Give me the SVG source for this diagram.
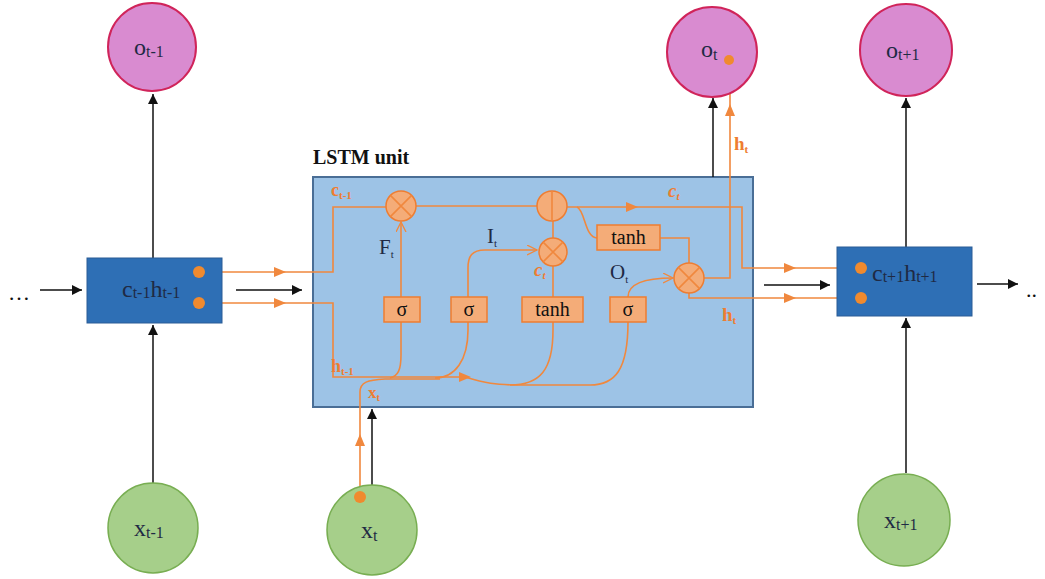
<svg xmlns="http://www.w3.org/2000/svg" width="1045" height="579" viewBox="0 0 1045 579">
<style>
.blk{stroke:#111;stroke-width:1.5;fill:none}
.or{stroke:#F0883E;stroke-width:1.6;fill:none}
.orf{fill:#F4AC78;stroke:#EE7D31;stroke-width:1.5}
.pink{fill:#D98BD0;stroke:#D0245A;stroke-width:2}
.green{fill:#A6CF8A;stroke:#78AE52;stroke-width:1.5}
.dbox{fill:#2E6FB5;stroke:#2A5D96;stroke-width:1}
.lbl{font-family:"Liberation Serif",serif;fill:#1F2A44}
.glbl{font-family:"Liberation Serif",serif;fill:#111}
.title{font-family:"Liberation Serif",serif;fill:#111;font-weight:bold}
.olbl{font-family:"Liberation Serif",serif;fill:#EE7D31;font-weight:bold}
.dot{fill:#F08A2E}
</style>
<defs>
<marker id="ab" markerWidth="12" markerHeight="12" refX="10" refY="5" orient="auto" markerUnits="userSpaceOnUse"><path d="M0,0 L10,5 L0,10 z" fill="#111"/></marker>
<marker id="at" markerWidth="14" markerHeight="14" refX="6" refY="5" orient="auto" markerUnits="userSpaceOnUse"><path d="M0,0 L12,5 L0,10 z" fill="#F0883E"/></marker>
<marker id="ac" markerWidth="14" markerHeight="14" refX="10" refY="5" orient="auto" markerUnits="userSpaceOnUse"><path d="M0,0 L10,5 L0,10" fill="none" stroke="#F0883E" stroke-width="1.3"/></marker>
</defs>

<g id="lstm-unit">
<text class="title" x="313" y="164" font-size="20">LSTM unit</text>
<rect x="313" y="177" width="440" height="230" fill="#9DC3E6" stroke="#4A6E96" stroke-width="2"/>
</g>

<g id="connectors">
<line class="blk" x1="40" y1="290" x2="82" y2="290" marker-end="url(#ab)"/>
<line class="blk" x1="236" y1="290" x2="302" y2="290" marker-end="url(#ab)"/>
<line class="blk" x1="764" y1="285" x2="830" y2="285" marker-end="url(#ab)"/>
<line class="blk" x1="977" y1="284" x2="1018" y2="284" marker-end="url(#ab)"/>
<line class="blk" x1="153" y1="258" x2="153" y2="94" marker-end="url(#ab)"/>
<line class="blk" x1="153" y1="483" x2="153" y2="325" marker-end="url(#ab)"/>
<line class="blk" x1="713" y1="177" x2="713" y2="98" marker-end="url(#ab)"/>
<line class="blk" x1="372" y1="486" x2="372" y2="409" marker-end="url(#ab)"/>
<line class="blk" x1="906" y1="247" x2="906" y2="98" marker-end="url(#ab)"/>
<line class="blk" x1="906" y1="473" x2="906" y2="318" marker-end="url(#ab)"/>

<path class="or" d="M205,272 H280" marker-end="url(#at)"/>
<path class="or" d="M280,272 H333 V207 H386"/>
<path class="or" d="M205,303 H280" marker-end="url(#at)"/>
<path class="or" d="M280,303 H333 V377 H465" marker-end="url(#at)"/>
<path class="or" d="M465,377 C485,383 495,385 520,385 H590 C615,385 628,370 628,322"/>
<path class="or" d="M360,497 V440" marker-end="url(#at)"/>
<path class="or" d="M360,440 V392 C360,382 368,380 385,379 H440"/>
<path class="or" d="M390,378 C398,376 401,370 401,355 V322"/>
<path class="or" d="M401,297 V222" marker-end="url(#ac)"/>
<path class="or" d="M435,378 C455,378 468,360 468,330 V322"/>
<path class="or" d="M468,297 V268 C468,256 472,250 485,250 H537" marker-end="url(#ac)"/>
<path class="or" d="M510,385 C540,385 553,370 553,330 V322"/>
<path class="or" d="M553,297 V266"/>
<path class="or" d="M553,238 V221"/>
<path class="or" d="M416,206 H537"/>
<path class="or" d="M567,207 H632" marker-end="url(#at)"/>
<path class="or" d="M632,207 H742 V268 H790" marker-end="url(#at)"/>
<path class="or" d="M790,268 H861"/>
<path class="or" d="M577,207 C585,210 585,238 597,238"/>
<path class="or" d="M628,297 C628,285 640,278 673,278" marker-end="url(#ac)"/>
<path class="or" d="M660,238 H689 V263"/>
<path class="or" d="M704,278 H730 V110" marker-end="url(#at)"/>
<path class="or" d="M730,110 V60"/>
<path class="or" d="M689,293 V298 H790" marker-end="url(#at)"/>
<path class="or" d="M790,298 H861"/>
</g>

<g id="ops">
<g id="forget-mult"><circle class="orf" cx="401" cy="206" r="15"/><path class="or" d="M390.4,195.4 L411.6,216.6 M411.6,195.4 L390.4,216.6"/></g>
<g id="add"><circle class="orf" cx="552" cy="206" r="15"/><path class="or" d="M552,191 V221"/></g>
<g id="input-mult"><circle class="orf" cx="553" cy="252" r="14"/><path class="or" d="M543.1,242.1 L562.9,261.9 M562.9,242.1 L543.1,261.9"/></g>
<g id="output-mult"><circle class="orf" cx="689" cy="278" r="15"/><path class="or" d="M678.4,267.4 L699.6,288.6 M699.6,267.4 L678.4,288.6"/></g>
</g>

<g id="gates">
<g id="sigma-f"><rect class="orf" x="384" y="297" width="36" height="25"/><text class="glbl" x="402" y="316" font-size="20" text-anchor="middle">σ</text></g>
<g id="sigma-i"><rect class="orf" x="451" y="297" width="36" height="25"/><text class="glbl" x="469" y="316" font-size="20" text-anchor="middle">σ</text></g>
<g id="tanh-c"><rect class="orf" x="522" y="297" width="61" height="25"/><text class="glbl" x="552.5" y="316" font-size="20" text-anchor="middle">tanh</text></g>
<g id="sigma-o"><rect class="orf" x="610" y="297" width="36" height="25"/><text class="glbl" x="628" y="316" font-size="20" text-anchor="middle">σ</text></g>
<g id="tanh-h"><rect class="orf" x="597" y="225" width="63" height="25"/><text class="glbl" x="628.5" y="244" font-size="20" text-anchor="middle">tanh</text></g>
</g>

<g id="inner-labels">
<text class="lbl" x="379" y="254" font-size="21">F<tspan font-size="11" dy="4">t</tspan></text>
<text class="lbl" x="487" y="243" font-size="21">I<tspan font-size="11" dy="4">t</tspan></text>
<text class="lbl" x="610" y="279" font-size="21">O<tspan font-size="11" dy="4">t</tspan></text>
<text class="olbl" x="331" y="196" font-size="18">c<tspan font-size="11" dy="3">t-1</tspan></text>
<text class="olbl" x="331" y="372" font-size="18">h<tspan font-size="11" dy="3">t-1</tspan></text>
<text class="olbl" x="368" y="398" font-size="17">x<tspan font-size="10" dy="3">t</tspan></text>
<text class="olbl" x="668" y="197" font-size="19" font-style="italic">c<tspan font-size="11" dy="3">t</tspan></text>
<text class="olbl" x="534" y="276" font-size="19" font-style="italic">c<tspan font-size="11" dy="3">t</tspan></text>
<text class="olbl" x="734" y="150" font-size="19">h<tspan font-size="11" dy="3">t</tspan></text>
<text class="olbl" x="722" y="321" font-size="19">h<tspan font-size="11" dy="3">t</tspan></text>
</g>

<g id="state-prev">
<rect class="dbox" x="87" y="258" width="135" height="65"/>
<text class="lbl" x="122" y="297" font-size="24">c<tspan font-size="16" dy="1">t-1</tspan><tspan font-size="24" dy="-1">h</tspan><tspan font-size="16" dy="1">t-1</tspan></text>
<circle class="dot" cx="199" cy="272" r="6"/>
<circle class="dot" cx="199" cy="303" r="6"/>
</g>
<g id="state-next">
<rect class="dbox" x="837" y="247" width="135" height="69"/>
<text class="lbl" x="872" y="281" font-size="24">c<tspan font-size="16" dy="1">t+1</tspan><tspan font-size="24" dy="-1">h</tspan><tspan font-size="16" dy="1">t+1</tspan></text>
<circle class="dot" cx="861" cy="268" r="6"/>
<circle class="dot" cx="861" cy="298" r="6"/>
</g>

<g id="dots">
<text class="glbl" x="8" y="300" font-size="22">…</text>
<text class="glbl" x="1026" y="297" font-size="22">..</text>
</g>

<g id="o-prev"><circle class="pink" cx="152" cy="47" r="44"/><text class="lbl" x="134" y="55" font-size="24">o<tspan font-size="16" dy="2">t-1</tspan></text></g>
<g id="o-cur"><circle class="pink" cx="712" cy="52" r="45"/><text class="lbl" x="701" y="57" font-size="24">o<tspan font-size="16" dy="3">t</tspan></text><circle class="dot" cx="729" cy="60" r="5"/></g>
<g id="o-next"><circle class="pink" cx="906" cy="50" r="46"/><text class="lbl" x="886" y="58" font-size="24">o<tspan font-size="16" dy="2">t+1</tspan></text></g>

<g id="x-prev"><circle class="green" cx="153" cy="528" r="45"/><text class="lbl" x="134" y="536" font-size="24">x<tspan font-size="16" dy="2">t-1</tspan></text></g>
<g id="x-cur"><circle class="green" cx="372" cy="530" r="45"/><text class="lbl" x="361" y="538" font-size="24">x<tspan font-size="16" dy="3">t</tspan></text><circle class="dot" cx="360" cy="497" r="6"/></g>
<g id="x-next"><circle class="green" cx="904" cy="520" r="46"/><text class="lbl" x="884" y="528" font-size="24">x<tspan font-size="16" dy="2">t+1</tspan></text></g>
</svg>
